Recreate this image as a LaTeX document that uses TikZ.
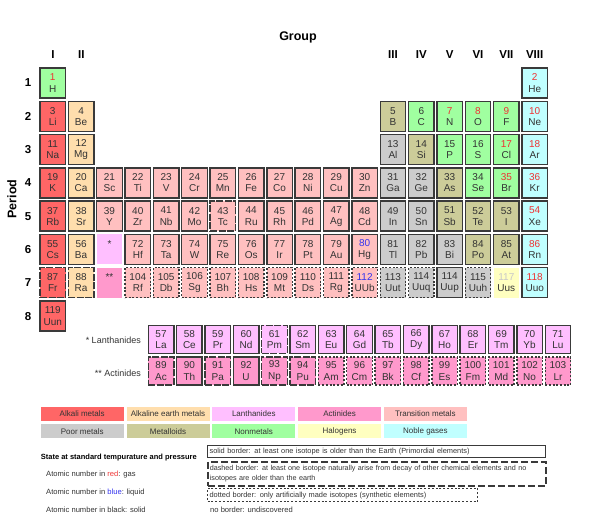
\documentclass[tikz,border=0pt]{standalone}
\usepackage{fontspec}
\setmainfont{Liberation Sans}
\definecolor{colAlk}{HTML}{FF6666}
\definecolor{colAe}{HTML}{FFDEAD}
\definecolor{colLan}{HTML}{FFBFFF}
\definecolor{colAct}{HTML}{FF99CC}
\definecolor{colTr}{HTML}{FFC0C0}
\definecolor{colPoor}{HTML}{CCCCCC}
\definecolor{colMtl}{HTML}{CCCC99}
\definecolor{colNon}{HTML}{A0FFA0}
\definecolor{colHal}{HTML}{FFFFC0}
\definecolor{colNob}{HTML}{C0FFFF}
\definecolor{symc}{HTML}{333333}
\definecolor{numk}{HTML}{333333}
\definecolor{numgas}{HTML}{EE3333}
\definecolor{numliq}{HTML}{3333EE}
\definecolor{numund}{HTML}{C8C8C8}
\definecolor{bord}{HTML}{3A3A3A}
\newcommand{\pel}[6]{\node[cell,#5] (e-#4) at ({40+(#1-1)*28.35+12.75},{68+(#2-1)*33.3+15}) {\textcolor{#6}{#3}\\#4};}
\newcommand{\fel}[6]{\node[cell,minimum height=28pt,#5] (e-#4) at ({148.3+(#1)*28.35+12.75},{#2}) {\textcolor{#6}{#3}\\#4};}
\begin{document}
\begin{tikzpicture}[x=1pt,y=-1pt,
  cell/.style={rectangle, minimum width=25.5pt, minimum height=30pt, inner sep=0pt, align=center, font=\fontsize{10}{11.2}\selectfont, text=symc},
  calk/.style={fill=colAlk}, cae/.style={fill=colAe}, clan/.style={fill=colLan}, cact/.style={fill=colAct},
  ctr/.style={fill=colTr}, cpoor/.style={fill=colPoor}, cmtl/.style={fill=colMtl}, cnon/.style={fill=colNon},
  chal/.style={fill=colHal}, cnob/.style={fill=colNob},
  bsol/.style={draw=bord, line width=1.4pt},
  bdsh/.style={draw=bord, line width=1.4pt, dash pattern=on 7pt off 1.5pt},
  bdot/.style={draw=bord, line width=1.4pt, dash pattern=on 2pt off 1.7pt},
  bnone/.style={},
  glab/.style={font=\fontsize{11.5}{13}\bfseries\selectfont, text=black},
  legbar/.style={rectangle, minimum width=83pt, minimum height=14.5pt, inner sep=0pt, font=\fontsize{8}{9}\selectfont, text=symc},
  legtxt/.style={anchor=west, inner sep=0pt, font=\fontsize{7.6}{9}\selectfont, text=symc},
  legbox/.style={rectangle, anchor=north west, inner xsep=2pt, inner ysep=0pt, minimum width=338pt, line width=1.2pt, draw=bord, align=left, text=symc}
]
\useasboundingbox (0,0) rectangle (600,518);
% titles
\node[font=\fontsize{12.5}{14}\bfseries\selectfont] (group) at (298,37) {Group};
\node[font=\fontsize{12.5}{14}\bfseries\selectfont, rotate=90] (period) at (12,199) {Period};
\node[glab] (g1) at (53,55) {I};
\node[glab] (g2) at (81.4,55) {II};
\node[glab] (g3) at (393,55) {III};
\node[glab] (g4) at (421.3,55) {IV};
\node[glab] (g5) at (449.7,55) {V};
\node[glab] (g6) at (478,55) {VI};
\node[glab] (g7) at (506.4,55) {VII};
\node[glab] (g8) at (534.7,55) {VIII};
\foreach \p in {1,...,8} {\node[glab] (p\p) at (28,{68+(\p-1)*33.3+15}) {\p};}
% row 1
\pel{1}{1}{1}{H}{cnon,bsol}{numgas}
\pel{18}{1}{2}{He}{cnob,bsol}{numgas}
% row 2
\pel{1}{2}{3}{Li}{calk,bsol}{numk}
\pel{2}{2}{4}{Be}{cae,bsol}{numk}
\pel{13}{2}{5}{B}{cmtl,bsol}{numk}
\pel{14}{2}{6}{C}{cnon,bsol}{numk}
\pel{15}{2}{7}{N}{cnon,bsol}{numgas}
\pel{16}{2}{8}{O}{cnon,bsol}{numgas}
\pel{17}{2}{9}{F}{cnon,bsol}{numgas}
\pel{18}{2}{10}{Ne}{cnob,bsol}{numgas}
% row 3
\pel{1}{3}{11}{Na}{calk,bsol}{numk}
\pel{2}{3}{12}{Mg}{cae,bsol}{numk}
\pel{13}{3}{13}{Al}{cpoor,bsol}{numk}
\pel{14}{3}{14}{Si}{cmtl,bsol}{numk}
\pel{15}{3}{15}{P}{cnon,bsol}{numk}
\pel{16}{3}{16}{S}{cnon,bsol}{numk}
\pel{17}{3}{17}{Cl}{cnon,bsol}{numgas}
\pel{18}{3}{18}{Ar}{cnob,bsol}{numgas}
% row 4
\pel{1}{4}{19}{K}{calk,bsol}{numk}
\pel{2}{4}{20}{Ca}{cae,bsol}{numk}
\foreach \n/\s [count=\i from 3] in {21/Sc,22/Ti,23/V,24/Cr,25/Mn,26/Fe,27/Co,28/Ni,29/Cu,30/Zn} {\pel{\i}{4}{\n}{\s}{ctr,bsol}{numk}}
\pel{13}{4}{31}{Ga}{cpoor,bsol}{numk}
\pel{14}{4}{32}{Ge}{cpoor,bsol}{numk}
\pel{15}{4}{33}{As}{cmtl,bsol}{numk}
\pel{16}{4}{34}{Se}{cnon,bsol}{numk}
\pel{17}{4}{35}{Br}{cnon,bsol}{numgas}
\pel{18}{4}{36}{Kr}{cnob,bsol}{numgas}
% row 5
\pel{1}{5}{37}{Rb}{calk,bsol}{numk}
\pel{2}{5}{38}{Sr}{cae,bsol}{numk}
\foreach \n/\s [count=\i from 3] in {39/Y,40/Zr,41/Nb,42/Mo} {\pel{\i}{5}{\n}{\s}{ctr,bsol}{numk}}
\pel{7}{5}{43}{Tc}{ctr,bdsh}{numk}
\foreach \n/\s [count=\i from 8] in {44/Ru,45/Rh,46/Pd,47/Ag,48/Cd} {\pel{\i}{5}{\n}{\s}{ctr,bsol}{numk}}
\pel{13}{5}{49}{In}{cpoor,bsol}{numk}
\pel{14}{5}{50}{Sn}{cpoor,bsol}{numk}
\pel{15}{5}{51}{Sb}{cmtl,bsol}{numk}
\pel{16}{5}{52}{Te}{cmtl,bsol}{numk}
\pel{17}{5}{53}{I}{cmtl,bsol}{numk}
\pel{18}{5}{54}{Xe}{cnob,bsol}{numgas}
% row 6
\pel{1}{6}{55}{Cs}{calk,bsol}{numk}
\pel{2}{6}{56}{Ba}{cae,bsol}{numk}
\node[cell,clan] (lanph) at ({40+2*28.35+12.75},{68+5*33.3+15}) {\textcolor{numk}{*}\\\phantom{A}};
\foreach \n/\s [count=\i from 4] in {72/Hf,73/Ta,74/W,75/Re,76/Os,77/Ir,78/Pt,79/Au} {\pel{\i}{6}{\n}{\s}{ctr,bsol}{numk}}
\pel{12}{6}{80}{Hg}{ctr,bsol}{numliq}
\pel{13}{6}{81}{Tl}{cpoor,bsol}{numk}
\pel{14}{6}{82}{Pb}{cpoor,bsol}{numk}
\pel{15}{6}{83}{Bi}{cpoor,bsol}{numk}
\pel{16}{6}{84}{Po}{cmtl,bsol}{numk}
\pel{17}{6}{85}{At}{cmtl,bsol}{numk}
\pel{18}{6}{86}{Rn}{cnob,bsol}{numgas}
% row 7
\pel{1}{7}{87}{Fr}{calk,bdsh}{numk}
\pel{2}{7}{88}{Ra}{cae,bdsh}{numk}
\node[cell,cact] (actph) at ({40+2*28.35+12.75},{68+6*33.3+15}) {\textcolor{numk}{**}\\\phantom{A}};
\foreach \n/\s [count=\i from 4] in {104/Rf,105/Db,106/Sg,107/Bh,108/Hs,109/Mt,110/Ds,111/Rg} {\pel{\i}{7}{\n}{\s}{ctr,bdot}{numk}}
\pel{12}{7}{112}{UUb}{ctr,bdot}{numliq}
\pel{13}{7}{113}{Uut}{cpoor,bdot}{numk}
\pel{14}{7}{114}{Uuq}{cpoor,bdot}{numk}
\pel{15}{7}{114}{Uup}{cpoor,bsol}{numk}
\pel{16}{7}{115}{Uuh}{cpoor,bdot}{numk}
\pel{17}{7}{117}{Uus}{chal,bnone}{numund}
\pel{18}{7}{118}{Uuo}{cnob,bsol}{numgas}
% row 8
\pel{1}{8}{119}{Uun}{calk,bsol}{numk}
% f-block
\node[anchor=east, inner sep=0pt, font=\fontsize{9}{11}\selectfont, text=symc] (lanlab) at (141,340) {* Lanthanides};
\node[anchor=east, inner sep=0pt, font=\fontsize{9}{11}\selectfont, text=symc] (actlab) at (141,373) {** Actinides};
\foreach \n/\s [count=\i from 0] in {57/La,58/Ce,59/Pr,60/Nd} {\fel{\i}{339.5}{\n}{\s}{clan,bsol}{numk}}
\fel{4}{339.5}{61}{Pm}{clan,bdsh}{numk}
\foreach \n/\s [count=\i from 5] in {62/Sm,63/Eu,64/Gd,65/Tb,66/Dy,67/Ho,68/Er,69/Tm,70/Yb,71/Lu} {\fel{\i}{339.5}{\n}{\s}{clan,bsol}{numk}}
\fel{0}{371}{89}{Ac}{cact,bdsh}{numk}
\fel{1}{371}{90}{Th}{cact,bsol}{numk}
\fel{2}{371}{91}{Pa}{cact,bdsh}{numk}
\fel{3}{371}{92}{U}{cact,bsol}{numk}
\fel{4}{371}{93}{Np}{cact,bdsh}{numk}
\fel{5}{371}{94}{Pu}{cact,bdsh}{numk}
\foreach \n/\s [count=\i from 6] in {95/Am,96/Cm,97/Bk,98/Cf,99/Es,100/Fm,101/Md,102/No,103/Lr} {\fel{\i}{371}{\n}{\s}{cact,bdot}{numk}}
% colour legend
\foreach \c/\t [count=\i from 0] in {colAlk/Alkali metals,colAe/Alkaline earth metals,colLan/Lanthanides,colAct/Actinides,colTr/Transition metals} {\node[legbar,fill=\c] (la\i) at ({40.7+\i*85.8+41.5},413.8) {\t};}
\foreach \c/\t [count=\i from 0] in {colPoor/Poor metals,colMtl/Metalloids,colNon/Nonmetals,colHal/Halogens,colNob/Noble gases} {\node[legbar,fill=\c] (lb\i) at ({40.7+\i*85.8+41.5},431.2) {\t};}
% state legend
\node[legtxt, font=\fontsize{7.5}{9}\bfseries\selectfont, text=black] (state) at (40.7,458) {State at standard tempurature and pressure};
\node[legtxt] (sgas) at (46,475) {Atomic number in \textcolor{numgas}{red}: gas};
\node[legtxt] (sliq) at (46,492.5) {Atomic number in \textcolor{numliq}{blue}: liquid};
\node[legtxt] (ssol) at (46,510) {Atomic number in black: solid};
% border legend
\node[legbox, minimum height=12pt, text width=334pt, font=\fontsize{7.4}{9}\selectfont] (bs) at (207,445) {solid border: at least one isotope is older than the Earth (Primordial elements)};
\node[legbox, minimum height=24pt, text width=334pt, dash pattern=on 7pt off 3pt, line width=1.6pt, font=\fontsize{7.2}{10.5}\selectfont] (bd) at (207,461) {dashed border: at least one isotope naturally arise from decay of other chemical elements and no\\isotopes are older than the earth};
\node[legbox, minimum width=270pt, minimum height=13pt, text width=266pt, dash pattern=on 2pt off 1.8pt, font=\fontsize{7.4}{9}\selectfont] (bt) at (207,488) {dotted border: only artificially made isotopes (synthetic elements)};
\node[legtxt] (bn) at (210,510) {no border: undiscovered};
\end{tikzpicture}
\end{document}
